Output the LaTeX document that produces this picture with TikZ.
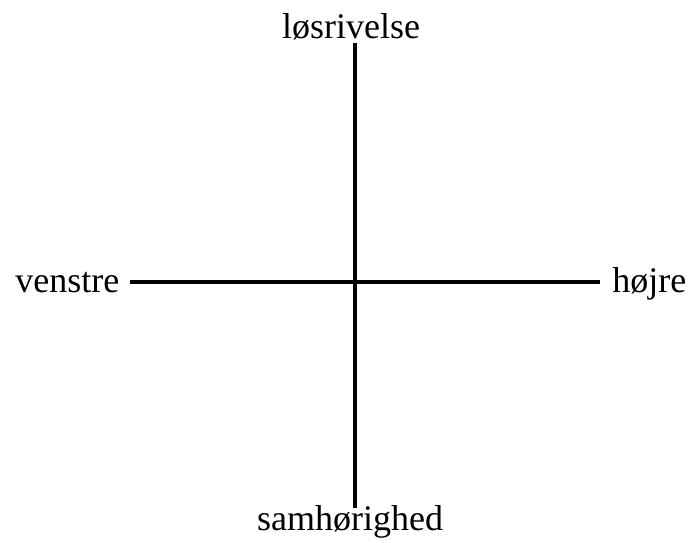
\documentclass[tikz,border=0pt]{standalone}
\usepackage{fontspec}
\setmainfont{Liberation Serif}
\usetikzlibrary{positioning}

\begin{document}
\begin{tikzpicture}[x=0.5pt, y=-0.5pt, axis/.style={line width=2.2pt}, lbl/.style={font=\fontsize{18}{20}\selectfont, inner sep=0pt}]
  \useasboundingbox (0,0) rectangle (690,542);

  \node[lbl, anchor=base] (top) at (351,38) {løsrivelse};
  \node[lbl, anchor=base] (bottom) at (350,530) {samhørighed};
  \node[lbl, anchor=base west] (left) at (15,292) {venstre};
  \node[lbl, anchor=base west] (right) at (612,292) {højre};

  \coordinate (N) at (355,43);
  \coordinate (S) at (355,508);
  \coordinate (W) at (130,282);
  \coordinate (E) at (600,282);

  \draw[axis] (W) -- (E);
  \draw[axis] (N) -- (S);
\end{tikzpicture}
\end{document}
